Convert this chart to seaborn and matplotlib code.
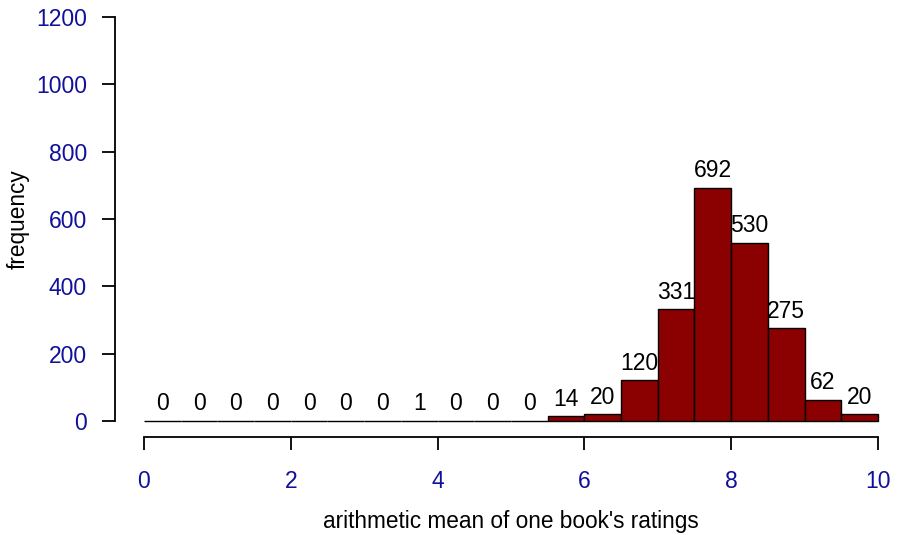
import numpy as np
import pandas as pd
import matplotlib
matplotlib.use("Agg")
import matplotlib.pyplot as plt
import seaborn as sns

# histogram bins (width 0.5 from 0 to 10) and counts
bin_edges = [i * 0.5 for i in range(21)]
bin_counts = [0, 0, 0, 0, 0, 0, 0, 1, 0, 0, 0, 14, 20, 120, 331, 692, 530, 275, 62, 20]
x_ticks = [0, 2, 4, 6, 8, 10]
y_ticks = [0, 200, 400, 600, 800, 1000, 1200]

centers = [(a + b) / 2 for a, b in zip(bin_edges[:-1], bin_edges[1:])]
df = pd.DataFrame({"mean_rating": centers, "count": bin_counts})

sns.set_style("white")
plt.rcParams['font.family'] = ['Liberation Sans', 'DejaVu Sans']

fig = plt.figure(figsize=(9.01, 5.35), dpi=100)
ax = fig.add_axes([114.6 / 901, 98 / 535, (901 - 114.6) / 901, 436 / 535])

sns.histplot(data=df, x="mean_rating", weights="count", bins=bin_edges,
             color="#8B0000", edgecolor="black", linewidth=1.0, alpha=1, ax=ax)

ax.bar_label(ax.containers[0], labels=[str(c) for c in bin_counts],
             padding=4, fontsize=16.5, color="black")

ax.set_xlim(-0.4, 10.314)
ax.set_ylim(-48, 1248)

for s in ["top", "right"]:
    ax.spines[s].set_visible(False)
ax.spines["left"].set_bounds(0, 1200)
ax.spines["bottom"].set_bounds(0, 10)
ax.spines["left"].set_linewidth(1.3)
ax.spines["bottom"].set_linewidth(1.3)
ax.spines["left"].set_color("black")
ax.spines["bottom"].set_color("black")

ax.set_xticks(x_ticks)
ax.set_yticks(y_ticks)
ax.tick_params(axis="both", direction="out", length=9.4, width=1.3,
               colors="black", labelcolor="#10109a", labelsize=16.5)
ax.tick_params(axis="x", pad=14)
ax.tick_params(axis="y", pad=10.5, left=True)
ax.tick_params(axis="x", bottom=True)
ax.grid(False)

ax.set_xlabel("arithmetic mean of one book's ratings", fontsize=16.3, color="black")
ax.set_ylabel("frequency", fontsize=16.3, color="black")
ax.xaxis.set_label_coords(0.504, -0.168)
ax.yaxis.set_label_coords(-0.108, 0.5)

fig.savefig("out.png", dpi=100)
